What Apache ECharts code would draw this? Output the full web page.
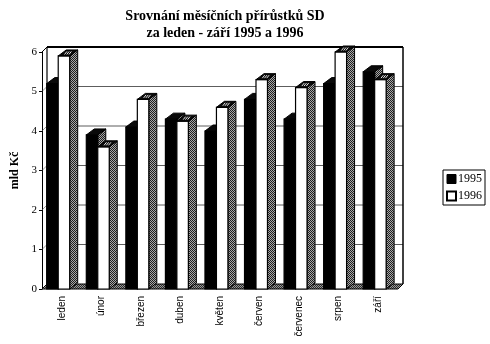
<!DOCTYPE html>
<html>
<head>
<meta charset="utf-8">
<script src="https://cdn.jsdelivr.net/npm/echarts@6/dist/echarts.min.js"></script>
<style>html,body{margin:0;padding:0;background:#fff}#c{width:490px;height:344px}</style>
</head>
<body>
<div id="c"></div>
<script>
var categories = ['leden', 'únor', 'březen', 'duben', 'květen', 'červen', 'červenec', 'srpen', 'září'];
var values1995 = [5.2, 3.9, 4.1, 4.3, 4.0, 4.8, 4.3, 5.2, 5.5];
var values1996 = [5.9, 3.6, 4.8, 4.25, 4.6, 5.3, 5.1, 6.0, 5.3];
var yTicks = [0, 1, 2, 3, 4, 5, 6];

function makePattern(c1, c2) {
  var cv = document.createElement('canvas');
  cv.width = 2; cv.height = 2;
  var ctx = cv.getContext('2d');
  ctx.fillStyle = c1; ctx.fillRect(0, 0, 2, 2);
  ctx.fillStyle = c2; ctx.fillRect(0, 0, 1, 1); ctx.fillRect(1, 1, 1, 1);
  return {image: cv, repeat: 'repeat'};
}
var sidePattern = makePattern('#a8a8a8', '#1e1e1e');
var floorPattern = makePattern('#9a9a9a', '#2a2a2a');

var BDX = 8, BDY = -6;   // bar depth
var WDX = 5, WDY = -5;   // wall depth

function barRenderer(startFrac, isWhite) {
  return function (params, api) {
    var idx = api.value(0), v = api.value(1);
    var p = api.coord([idx, v]);
    var p0 = api.coord([idx, 0]);
    var bw = api.size([1, 0])[0];
    var w = bw * 0.29;
    var x = p[0] + bw * startFrac;
    var yt = p[1], yb = p0[1];
    var children = [
      {type: 'polygon', shape: {points: [[x + w, yt], [x + w + BDX, yt + BDY], [x + w + BDX, yb + BDY], [x + w, yb]]},
       style: {fill: sidePattern, stroke: '#000', lineWidth: 1}},
      {type: 'rect', shape: {x: x, y: yt, width: w, height: yb - yt},
       style: {fill: isWhite ? '#fff' : '#000', stroke: '#000', lineWidth: 1.2}},
      {type: 'polygon', shape: {points: [[x, yt], [x + w, yt], [x + w + BDX, yt + BDY], [x + BDX, yt + BDY]]},
       style: {fill: '#0a0a0a', stroke: '#000', lineWidth: 1}}
    ];
    if (isWhite) {
      var mx = x + w / 2 + BDX / 2, my = yt + BDY / 2;
      for (var k = -1; k <= 1; k++) {
        children.push({type: 'line', shape: {x1: mx + k * 2.2 - 1.2, y1: my + 1.5, x2: mx + k * 2.2 + 1.2, y2: my - 1.5},
          style: {stroke: '#fff', lineWidth: 0.9}});
      }
    }
    return {type: 'group', children: children};
  };
}

function frameRenderer(params, api) {
  var cs = params.coordSys;
  var x = cs.x, y = cs.y, w = cs.width, h = cs.height;
  var ch = [];
  ch.push({type: 'rect', shape: {x: x + WDX, y: y + WDY, width: w, height: h}, style: {fill: '#fff'}});
  for (var i = 1; i < yTicks.length - 1; i++) {
    var gy = api.coord([0, yTicks[i]])[1] + WDY;
    ch.push({type: 'line', shape: {x1: x + WDX, y1: gy, x2: x + w + WDX, y2: gy}, style: {stroke: '#333', lineWidth: 0.8}});
    ch.push({type: 'line', shape: {x1: x, y1: gy - WDY, x2: x + WDX, y2: gy}, style: {stroke: '#555', lineWidth: 0.6}});
  }
  ch.push({type: 'polygon', shape: {points: [[x, y + h], [x + w, y + h], [x + w + WDX, y + h + WDY], [x + WDX, y + h + WDY]]},
    style: {fill: floorPattern, stroke: '#000', lineWidth: 1}});
  ch.push({type: 'line', shape: {x1: x + WDX, y1: y + WDY, x2: x + w + WDX, y2: y + WDY}, style: {stroke: '#000', lineWidth: 2}});
  ch.push({type: 'line', shape: {x1: x + w + WDX, y1: y + WDY, x2: x + w + WDX, y2: y + h + WDY}, style: {stroke: '#000', lineWidth: 1.5}});
  ch.push({type: 'line', shape: {x1: x + WDX, y1: y + WDY, x2: x + WDX, y2: y + h + WDY}, style: {stroke: '#000', lineWidth: 1.2}});
  ch.push({type: 'line', shape: {x1: x, y1: y, x2: x + WDX, y2: y + WDY}, style: {stroke: '#000', lineWidth: 1}});
  return {type: 'group', children: ch};
}

var chart = echarts.init(document.getElementById('c'));
chart.setOption({
  animation: false,
  backgroundColor: '#fff',
  title: {
    text: 'Srovnání měsíčních přírůstků SD\nza leden - září 1995 a 1996',
    left: 220, top: 3, textAlign: 'center',
    textStyle: {fontFamily: 'Liberation Serif', fontWeight: 'bold', fontSize: 14, lineHeight: 17, color: '#000'}
  },
  legend: {
    orient: 'vertical', left: 443, top: 170,
    borderColor: '#000', borderWidth: 1, padding: [3, 3, 3, 3],
    itemWidth: 9, itemHeight: 9, itemGap: 5, icon: 'rect',
    textStyle: {fontFamily: 'Liberation Serif', fontSize: 12, color: '#000', padding: [0, 0, 0, -3]},
    data: [
      {name: '1995', itemStyle: {color: '#000', borderColor: '#000', borderWidth: 1}},
      {name: '1996', itemStyle: {color: '#fff', borderColor: '#000', borderWidth: 2}}
    ]
  },
  grid: {left: 42, top: 52, width: 356, height: 237},
  xAxis: {
    type: 'category', data: categories, boundaryGap: true,
    axisLine: {show: false}, axisTick: {show: false},
    axisLabel: {rotate: 90, interval: 0, margin: 7, fontFamily: 'Liberation Sans', fontSize: 10, color: '#000'}
  },
  yAxis: {
    type: 'value', min: 0, max: 6, interval: 1,
    name: 'mld Kč', nameLocation: 'middle', nameGap: 21, nameRotate: 90,
    nameTextStyle: {fontFamily: 'Liberation Serif', fontWeight: 'bold', fontSize: 12, color: '#000'},
    axisLine: {show: true, lineStyle: {color: '#000', width: 1}},
    axisTick: {show: true, length: 3, lineStyle: {color: '#000'}},
    axisLabel: {fontFamily: 'Liberation Serif', fontSize: 11, color: '#000', margin: 5},
    splitLine: {show: false}
  },
  series: [
    {type: 'custom', name: 'frame', z: 1, clip: false, silent: true, renderItem: frameRenderer, data: [[0, 0]]},
    {type: 'custom', name: '1995', z: 2, clip: false, itemStyle: {color: '#000'},
     renderItem: barRenderer(-0.38, false), encode: {x: 0, y: 1},
     data: values1995.map(function (v, i) { return [i, v]; })},
    {type: 'custom', name: '1996', z: 3, clip: false, itemStyle: {color: '#fff', borderColor: '#000'},
     renderItem: barRenderer(-0.09, true), encode: {x: 0, y: 1},
     data: values1996.map(function (v, i) { return [i, v]; })}
  ]
});
</script>
</body>
</html>
